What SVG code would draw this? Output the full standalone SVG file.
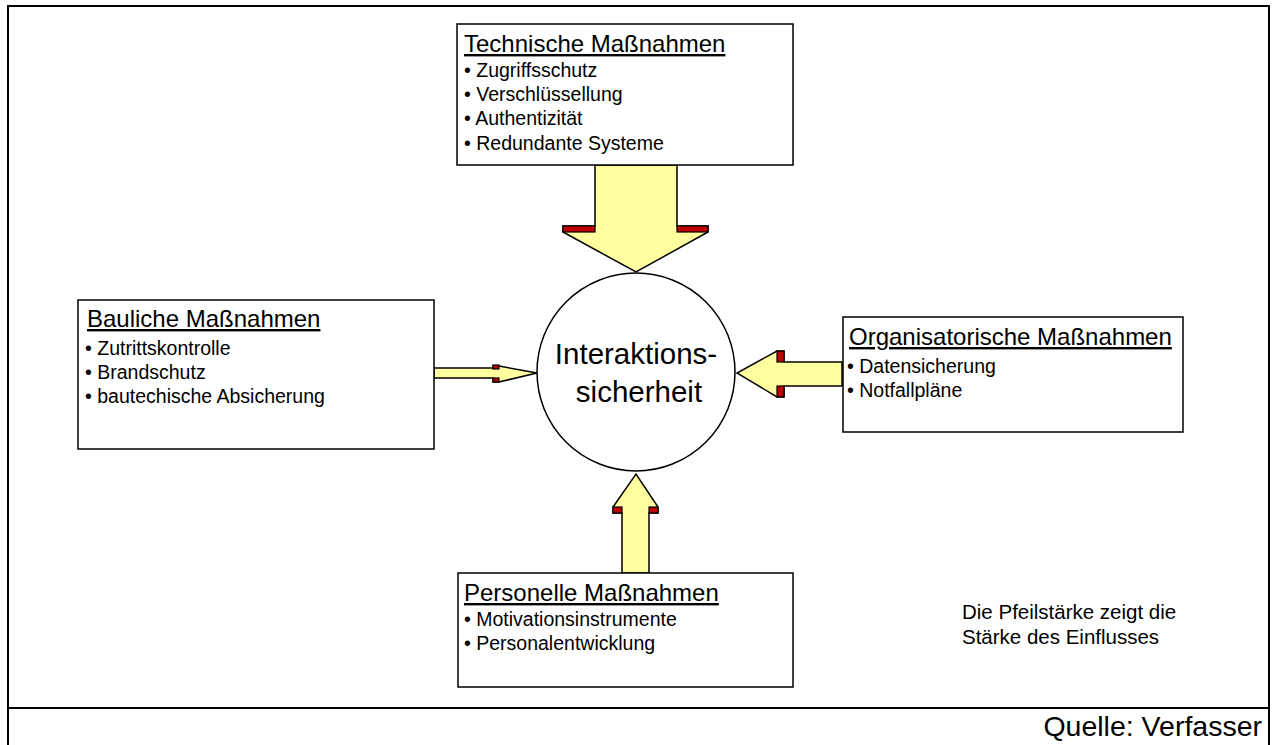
<svg xmlns="http://www.w3.org/2000/svg" width="1273" height="745" viewBox="0 0 1273 745">
  <style>
    .frame { fill: none; stroke: #000; stroke-width: 2; }
    .box { fill: #fff; stroke: #000; stroke-width: 1.5; }
    .arrow { fill: #FFFFA0; stroke: #000; stroke-width: 1.5; stroke-linejoin: miter; }
    .bar { fill: #C00000; stroke: #000; stroke-width: 1.2; }
    text { font-family: "Liberation Sans", Arial, sans-serif; fill: #000; }
    .title { font-size: 24px; text-decoration: underline; }
    .item { font-size: 19.5px; }
    .center { font-size: 29.5px; text-anchor: middle; }
    .note { font-size: 20.5px; }
    .source { font-size: 28.5px; text-anchor: end; }
  </style>

  <rect x="0" y="0" width="1273" height="745" fill="#fff"/>

  <!-- outer frame and footer separator -->
  <g id="frame">
    <path class="frame" d="M8,745 V6 H1269 V745"/>
    <line class="frame" x1="8" y1="708" x2="1269" y2="708"/>
  </g>

  <!-- connectors: block arrows pointing into the centre -->
  <g id="connectors">
    <polygon class="arrow" points="595,165 595,226 563,226 563,232 636,272 708,232 708,226 677,226 677,165"/>
    <rect class="bar" x="563" y="226" width="32" height="6"/>
    <rect class="bar" x="677" y="226" width="31" height="6"/>

    <polygon class="arrow" points="434,368 493,368 493,366 499,366 537,373 499,382 493,382 493,378 434,378"/>
    <rect class="bar" x="493" y="365" width="6" height="4"/>
    <rect class="bar" x="493" y="378" width="6" height="4"/>

    <polygon class="arrow" points="842,362 784,362 784,351 777,351 737,373 777,397 784,397 784,386 842,386"/>
    <rect class="bar" x="777" y="351" width="7" height="11"/>
    <rect class="bar" x="777" y="386" width="7" height="11"/>

    <polygon class="arrow" points="622,573 622,513 613,513 613,507 636,474 658,507 658,513 649,513 649,573"/>
    <rect class="bar" x="613" y="507" width="9" height="6"/>
    <rect class="bar" x="649" y="507" width="9" height="6"/>
  </g>

  <g id="technisch">
    <rect class="box" x="457" y="24" width="336" height="141"/>
    <text class="title" x="464" y="52">Technische Maßnahmen</text>
    <text class="item" x="464" y="77">• Zugriffsschutz</text>
    <text class="item" x="464" y="101">• Verschlüssellung</text>
    <text class="item" x="464" y="125">• Authentizität</text>
    <text class="item" x="464" y="150">• Redundante Systeme</text>
  </g>

  <g id="baulich">
    <rect class="box" x="78" y="300" width="356" height="149"/>
    <text class="title" x="87" y="327">Bauliche Maßnahmen</text>
    <text class="item" x="85" y="355">• Zutrittskontrolle</text>
    <text class="item" x="85" y="379">• Brandschutz</text>
    <text class="item" x="85" y="403">• bautechische Absicherung</text>
  </g>

  <g id="organisatorisch">
    <rect class="box" x="843" y="317" width="340" height="115"/>
    <text class="title" x="849" y="345">Organisatorische Maßnahmen</text>
    <text class="item" x="847" y="373">• Datensicherung</text>
    <text class="item" x="847" y="397">• Notfallpläne</text>
  </g>

  <g id="personell">
    <rect class="box" x="458" y="573" width="335" height="114"/>
    <text class="title" x="464" y="601">Personelle Maßnahmen</text>
    <text class="item" x="464" y="626">• Motivationsinstrumente</text>
    <text class="item" x="464" y="650">• Personalentwicklung</text>
  </g>

  <g id="zentrum">
    <circle cx="636" cy="372" r="99" fill="#fff" stroke="#000" stroke-width="1.5"/>
    <text class="center" x="636" y="364">Interaktions-</text>
    <text class="center" x="639" y="402">sicherheit</text>
  </g>

  <g id="hinweis">
    <text class="note" x="962" y="619">Die Pfeilstärke zeigt die</text>
    <text class="note" x="962" y="644">Stärke des Einflusses</text>
  </g>

  <text class="source" x="1262" y="736">Quelle: Verfasser</text>
</svg>
